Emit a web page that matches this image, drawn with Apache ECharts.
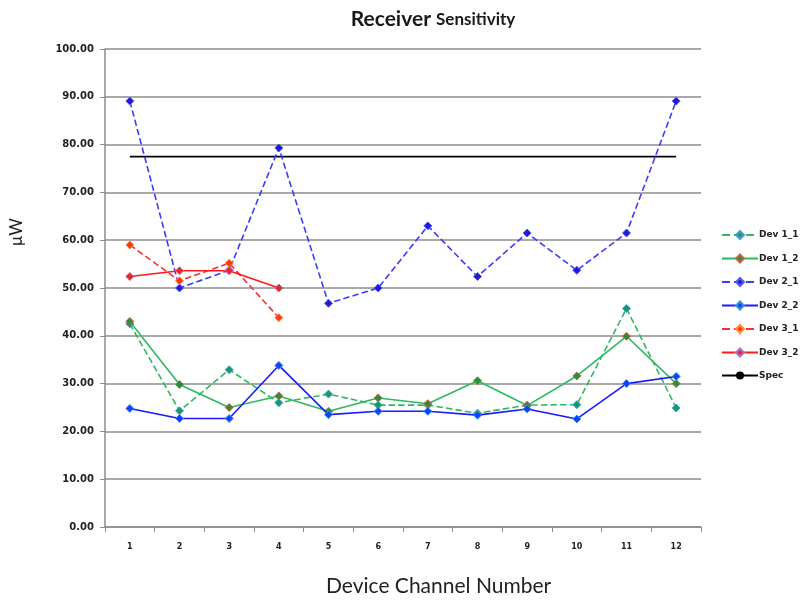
<!DOCTYPE html>
<html>
<head>
<meta charset="utf-8">
<script src="https://cdn.jsdelivr.net/npm/echarts@6/dist/echarts.min.js"></script>
<style>html,body{margin:0;padding:0;background:#fff}#c{width:804px;height:602px}</style>
</head>
<body>
<div id="c"></div>
<script>
var categories = ['1','2','3','4','5','6','7','8','9','10','11','12'];
var yTicks = [0,10,20,30,40,50,60,70,80,90,100];
var dev1_1 = [42.5, 24.3, 32.9, 26.0, 27.8, 25.5, 25.5, 23.8, 25.5, 25.6, 45.7, 24.9];
var dev1_2 = [43.0, 29.8, 25.0, 27.4, 24.2, 27.0, 25.8, 30.6, 25.4, 31.6, 39.9, 30.0];
var dev2_1 = [89.1, 50.0, 53.7, 79.3, 46.8, 50.0, 63.0, 52.4, 61.5, 53.7, 61.5, 89.1];
var dev2_2 = [24.8, 22.7, 22.7, 33.8, 23.5, 24.2, 24.2, 23.4, 24.7, 22.6, 30.0, 31.5];
var dev3_1 = [59.0, 51.5, 55.2, 43.8];
var dev3_2 = [52.4, 53.6, 53.6, 50.0];
var spec = [77.5, 77.5, 77.5, 77.5, 77.5, 77.5, 77.5, 77.5, 77.5, 77.5, 77.5, 77.5];

function mk(name, data, lineColor, type, markColor, borderColor, z) {
  return {
    name: name, type: 'line', data: data, symbol: 'diamond', symbolSize: 8,
    z: z,
    lineStyle: {color: lineColor, width: 1.6, type: type},
    itemStyle: {color: markColor, borderColor: borderColor, borderWidth: 1},
    emphasis: {disabled: true}
  };
}

var chart = echarts.init(document.getElementById('c'), null, {renderer: 'canvas'});
chart.setOption({
  animation: false,
  backgroundColor: '#fff',
  title: {
    text: '{a|Receiver} {b|Sensitivity}',
    left: 428, top: 4, textAlign: 'center',
    textStyle: {
      rich: {
        a: {fontFamily: 'Lato', fontWeight: 'bold', fontSize: 21, color: '#1a1a1a'},
        b: {fontFamily: 'Lato', fontWeight: 'bold', fontSize: 17, color: '#1a1a1a'}
      }
    }
  },
  graphic: [
    {type: 'text', left: 441 - 115, top: 576,
     style: {text: 'Device Channel Number', fontFamily: 'Lato', fontSize: 21, fill: '#222'}},
    {type: 'text', x: 8, y: 246, rotation: Math.PI / 2,
     style: {text: 'μW', fontFamily: 'Lato', fontSize: 17, fill: '#222'}}
  ],
  grid: {left: 105, right: 103, top: 49, bottom: 75, containLabel: false},
  legend: {
    orient: 'vertical', left: 716, top: 225, itemWidth: 36, itemHeight: 10, itemGap: 13.5,
    textStyle: {fontFamily: 'DejaVu Sans', fontSize: 9, fontWeight: 'bold', color: '#222', padding: [0,0,0,-4]},
    data: ['Dev 1_1','Dev 1_2','Dev 2_1','Dev 2_2','Dev 3_1','Dev 3_2','Spec']
  },
  xAxis: {
    type: 'category', data: categories, boundaryGap: true,
    axisLine: {lineStyle: {color: '#8c8c8c', width: 1.5}},
    axisTick: {show: true, length: 5, lineStyle: {color: '#8c8c8c'}},
    axisLabel: {fontFamily: 'DejaVu Sans', fontSize: 8, fontWeight: 'bold', color: '#222', margin: 16}
  },
  yAxis: {
    type: 'value', min: yTicks[0], max: yTicks[yTicks.length-1], interval: 10,
    axisLine: {show: true, lineStyle: {color: '#8c8c8c', width: 1.5}},
    axisTick: {show: true, length: 5, lineStyle: {color: '#8c8c8c'}},
    splitLine: {lineStyle: {color: '#8c8c8c', width: 1.5}},
    axisLabel: {fontFamily: 'DejaVu Sans', fontSize: 10, fontWeight: 'bold', color: '#222', margin: 11,
      formatter: function (v) { return v.toFixed(2); }}
  },
  series: [
    mk('Dev 1_1', dev1_1, '#2fb85e', 'dashed', '#17986c', '#4a9fc8', 3),
    mk('Dev 1_2', dev1_2, '#2fb85e', 'solid', '#2a8f3c', '#c26848', 3),
    mk('Dev 2_1', dev2_1, '#3b3bff', 'dashed', '#1c1cd8', '#5a5af0', 3),
    mk('Dev 2_2', dev2_2, '#1a1aff', 'solid', '#0a44ff', '#3f92d8', 4),
    mk('Dev 3_1', dev3_1, '#ff2d2d', 'dashed', '#ff3a0a', '#ff9040', 3),
    mk('Dev 3_2', dev3_2, '#ff1a1a', 'solid', '#f02424', '#a078c8', 3),
    {name: 'Spec', type: 'line', data: spec, symbol: 'none', showSymbol: false, z: 2,
     lineStyle: {color: '#000', width: 1.8}, itemStyle: {color: '#000'}, emphasis: {disabled: true}}
  ]
});
</script>
</body>
</html>
